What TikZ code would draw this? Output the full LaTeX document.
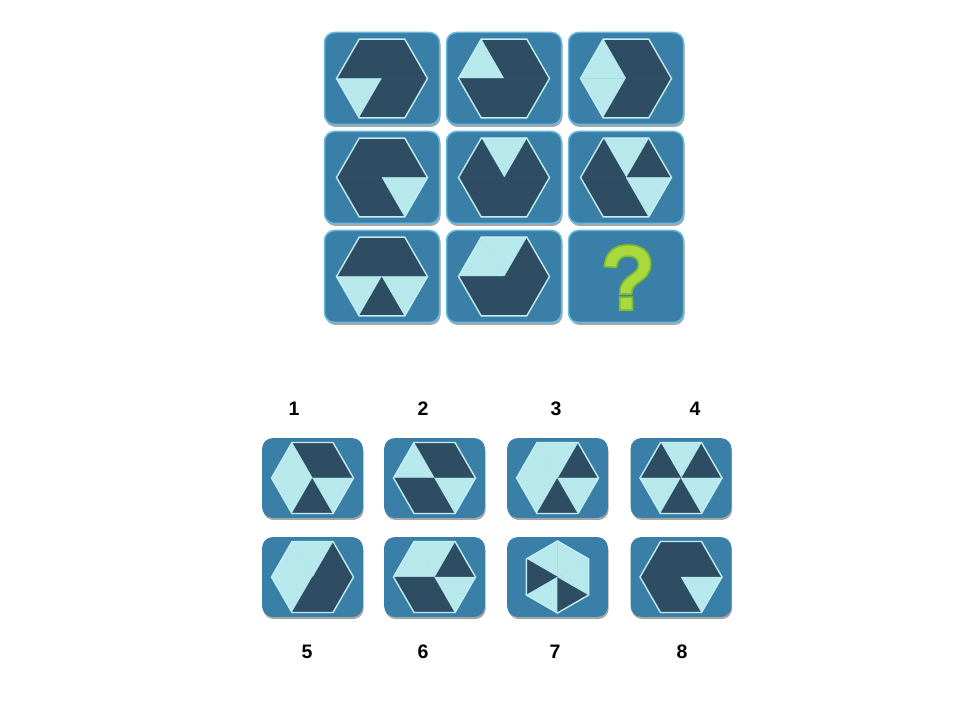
\documentclass[tikz,border=0pt]{standalone}
\usepackage{fontspec}
\setmainfont{Liberation Sans}
\newfontfamily\qfont[FakeBold=3]{Liberation Sans}
\newfontfamily\qfontfat[FakeBold=7]{Liberation Sans}
\usetikzlibrary{shadows,calc}
\definecolor{cardblue}{HTML}{3A7FA8}
\definecolor{cardedge}{HTML}{66B8E0}
\definecolor{dk}{HTML}{2F4D62}
\definecolor{lt}{HTML}{B6E8EC}
\definecolor{hexedge}{HTML}{C2EEF2}
\definecolor{qfill}{HTML}{A9D93E}
\definecolor{qedge}{HTML}{7DBD2C}
\tikzset{
  gridcard/.style={rectangle, rounded corners=10pt, fill=cardblue, draw=cardedge, line width=1.5pt,
    minimum width=115pt, minimum height=92pt, inner sep=0pt,
    drop shadow={shadow xshift=1pt, shadow yshift=-2.5pt, opacity=0.35, fill=black}},
  optcard/.style={rectangle, rounded corners=10pt, fill=cardblue, draw=cardblue, line width=0.6pt,
    minimum width=100pt, minimum height=79pt, inner sep=0pt,
    drop shadow={shadow xshift=1pt, shadow yshift=-2.5pt, opacity=0.35, fill=black}},
  hexline/.style={draw=hexedge, line width=1.4pt, line join=miter},
  numlabel/.style={font=\fontsize{19.5}{20}\selectfont\bfseries, inner sep=0pt, text=black},
  qmark/.style={inner sep=0pt}
}
% #1 card name, #2 radius, #3 start angle, #4 six colours
\newcommand\hexfig[4]{%
  \begin{scope}[shift={(#1.center)}]
    \foreach \c [count=\i from 0] in {#4} {
      \fill[fill=\c, draw=\c, line width=0.3pt]
        (0,0) -- (#3+60*\i:#2) -- (#3+60*\i+60:#2) -- cycle;
    }
    \draw[hexline] (#3:#2) -- (#3+60:#2) -- (#3+120:#2) -- (#3+180:#2)
      -- (#3+240:#2) -- (#3+300:#2) -- cycle;
  \end{scope}}
\begin{document}
\begin{tikzpicture}[x=1pt,y=1pt]
\useasboundingbox (0,0) rectangle (960,720);
\fill[white] (0,0) rectangle (960,720);
% ---- grid cards
\node[gridcard] (g11) at (382,641.5) {};
\node[gridcard] (g12) at (504,641.5) {};
\node[gridcard] (g13) at (626,641.5) {};
\node[gridcard] (g21) at (382,542.5) {};
\node[gridcard] (g22) at (504,542.5) {};
\node[gridcard] (g23) at (626,542.5) {};
\node[gridcard] (g31) at (382,443.5) {};
\node[gridcard] (g32) at (504,443.5) {};
\node[gridcard] (g33) at (626,443.5) {};
\hexfig{g11}{45.5}{0}{dk,dk,dk,lt,dk,dk}
\hexfig{g12}{45.5}{0}{dk,dk,lt,dk,dk,dk}
\hexfig{g13}{45.5}{0}{dk,dk,lt,lt,dk,dk}
\hexfig{g21}{45.5}{0}{dk,dk,dk,dk,dk,lt}
\hexfig{g22}{45.5}{0}{dk,lt,dk,dk,dk,dk}
\hexfig{g23}{45.5}{0}{dk,lt,dk,dk,dk,lt}
\hexfig{g31}{45.5}{0}{dk,dk,dk,lt,dk,lt}
\hexfig{g32}{45.5}{0}{dk,lt,lt,dk,dk,dk}
% question mark with outline
\node[qmark, font=\qfontfat\fontsize{87}{87}\selectfont, text=qedge] (qo) at ($(g33.center)+(1.5,-1)$) {?};
\node[qmark, font=\qfont\fontsize{87}{87}\selectfont, text=qfill] (qm) at (qo.center) {?};
% ---- options
\node[optcard] (o1) at (312.5,242) {};
\node[optcard] (o2) at (434.5,242) {};
\node[optcard] (o3) at (557.5,242) {};
\node[optcard] (o4) at (681,242) {};
\node[optcard] (o5) at (312.5,143) {};
\node[optcard] (o6) at (434.5,143) {};
\node[optcard] (o7) at (557.5,143) {};
\node[optcard] (o8) at (681,143) {};
\hexfig{o1}{41}{0}{dk,dk,lt,lt,dk,lt}
\hexfig{o2}{41}{0}{dk,dk,lt,dk,dk,lt}
\hexfig{o3}{41}{0}{dk,lt,lt,lt,dk,lt}
\hexfig{o4}{41}{0}{dk,lt,dk,lt,dk,lt}
\hexfig{o5}{41}{0}{dk,lt,lt,lt,dk,dk}
\hexfig{o6}{41}{0}{dk,lt,lt,dk,dk,lt}
\hexfig{o7}{36}{30}{lt,lt,dk,lt,dk,lt}
\hexfig{o8}{41}{0}{dk,dk,dk,dk,dk,lt}
% ---- labels
\node[numlabel] (n1) at (294,311) {1};
\node[numlabel] (n2) at (423,311) {2};
\node[numlabel] (n3) at (556,311) {3};
\node[numlabel] (n4) at (695,311) {4};
\node[numlabel] (n5) at (307,68) {5};
\node[numlabel] (n6) at (423,68) {6};
\node[numlabel] (n7) at (555,68) {7};
\node[numlabel] (n8) at (682,68) {8};
\end{tikzpicture}
\end{document}
